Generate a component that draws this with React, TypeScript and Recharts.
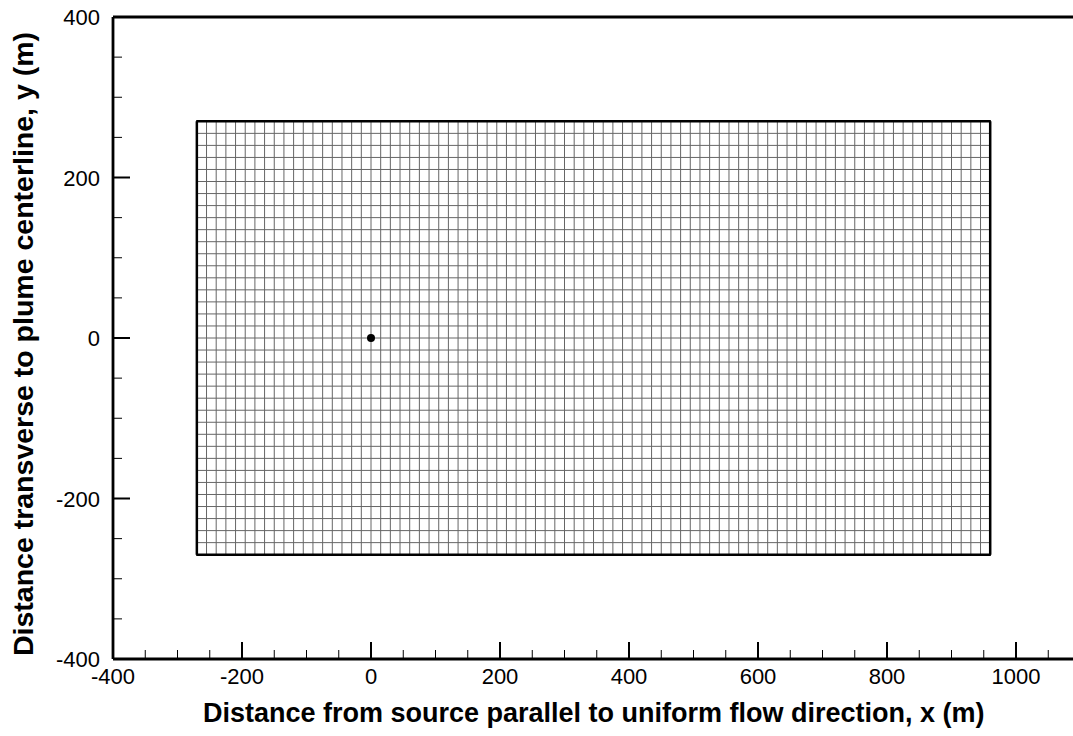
import React from 'react';
import { ComposedChart, XAxis, YAxis, Scatter, ReferenceLine, Label } from 'recharts';

// axis ticks (major ones get labels)
const xMajorTicks = [-400, -200, 0, 200, 400, 600, 800, 1000];
const xAllTicks = [
  -400, -350, -300, -250, -200, -150, -100, -50, 0, 50, 100, 150, 200, 250, 300, 350, 400,
  450, 500, 550, 600, 650, 700, 750, 800, 850, 900, 950, 1000, 1050, 1100,
];
const yMajorTicks = [-400, -200, 0, 200, 400];
const yAllTicks = [-400, -350, -300, -250, -200, -150, -100, -50, 0, 50, 100, 150, 200, 250, 300, 350, 400];

// model grid (m) and the source location
const meshXRange = [-270, 960];
const meshYRange = [-270, 270];
const meshCell = 15;
const sourcePoint = [{ x: 0, y: 0 }];

const font = 'Liberation Sans, Arial, Helvetica, sans-serif';

const meshXs: number[] = [];
for (let v = meshXRange[0]; v <= meshXRange[1]; v += meshCell) meshXs.push(v);
const meshYs: number[] = [];
for (let v = meshYRange[0]; v <= meshYRange[1]; v += meshCell) meshYs.push(v);

const MAJOR = 17;
const MINOR = 9;

const makeTick = (side: 'bottom' | 'top' | 'left' | 'right', majors: number[]) => (props: any) => {
  const { x, y, payload } = props;
  const major = majors.includes(payload.value);
  const len = major ? MAJOR : MINOR;
  const sw = major ? 2 : 1;
  let line;
  if (side === 'bottom') line = <line x1={x} x2={x} y1={y} y2={y - len} stroke="#000" strokeWidth={sw} />;
  else if (side === 'top') line = <line x1={x} x2={x} y1={y} y2={y + len} stroke="#000" strokeWidth={sw} />;
  else if (side === 'left') line = <line x1={x} x2={x + len} y1={y} y2={y} stroke="#000" strokeWidth={sw} />;
  else line = <line x1={x} x2={x - len} y1={y} y2={y} stroke="#000" strokeWidth={sw} />;
  let label = null;
  if (major && side === 'bottom')
    label = (
      <text x={x} y={y + 25} textAnchor="middle" fontSize={22} fontFamily={font} fill="#000">
        {payload.value}
      </text>
    );
  if (major && side === 'left')
    label = (
      <text x={x - 13} y={y + 8} textAnchor="end" fontSize={22} fontFamily={font} fill="#000">
        {payload.value}
      </text>
    );
  return (
    <g>
      {line}
      {label}
    </g>
  );
};

const XTitle = (props: any) => {
  const vb = props.viewBox;
  return (
    <text x={vb.x + vb.width / 2 - 3} y={vb.y + 63} textAnchor="middle" fontSize={27} fontWeight="bold" fontFamily={font} fill="#000">
      Distance from source parallel to uniform flow direction, x (m)
    </text>
  );
};

const YTitle = (props: any) => {
  const vb = props.viewBox;
  const cx = vb.x - 79;
  const cy = vb.y + vb.height / 2 + 6;
  return (
    <text x={cx} y={cy} transform={`rotate(-90, ${cx}, ${cy})`} textAnchor="middle" fontSize={28.5} fontWeight="bold" fontFamily={font} fill="#000">
      Distance transverse to plume centerline, y (m)
    </text>
  );
};

const axisCommon = {
  type: 'number' as const,
  interval: 0 as const,
  tickSize: 0,
  tickMargin: 0,
  tickLine: false,
  axisLine: { stroke: '#000', strokeWidth: 2.8 },
};

export default function App() {
  return (
    <div style={{ position: 'absolute', left: 0, top: 0, width: 1073, height: 736, overflow: 'hidden', background: '#fff' }}>
      <ComposedChart width={1100} height={736} margin={{ top: 16, left: 112, right: 18.5, bottom: 76 }}>
        <XAxis xAxisId="b" dataKey="x" domain={[-400, 1100]} ticks={xAllTicks} height={1} {...axisCommon} tick={makeTick('bottom', xMajorTicks)}>
          <Label content={<XTitle />} />
        </XAxis>
        <XAxis xAxisId="t" orientation="top" dataKey="x" domain={[-400, 1100]} ticks={xAllTicks} height={1} {...axisCommon} tick={makeTick('top', xMajorTicks)} />
        <YAxis yAxisId="l" dataKey="y" domain={[-400, 400]} ticks={yAllTicks} width={1} {...axisCommon} tick={makeTick('left', yMajorTicks)}>
          <Label content={<YTitle />} />
        </YAxis>
        <YAxis yAxisId="r" orientation="right" dataKey="y" domain={[-400, 400]} ticks={yAllTicks} width={1} {...axisCommon} tick={makeTick('right', yMajorTicks)} />
        {meshXs.map((v) => (
          <ReferenceLine
            key={'vx' + v}
            xAxisId="b"
            yAxisId="l"
            segment={[{ x: v, y: meshYRange[0] }, { x: v, y: meshYRange[1] }]}
            stroke="#666"
            strokeWidth={1}
          />
        ))}
        {meshYs.map((v) => (
          <ReferenceLine
            key={'hy' + v}
            xAxisId="b"
            yAxisId="l"
            segment={[{ x: meshXRange[0], y: v }, { x: meshXRange[1], y: v }]}
            stroke="#666"
            strokeWidth={1}
          />
        ))}
        {/* outer boundary of the model grid */}
        {meshXRange.map((v) => (
          <ReferenceLine
            key={'bx' + v}
            xAxisId="b"
            yAxisId="l"
            segment={[{ x: v, y: meshYRange[0] }, { x: v, y: meshYRange[1] }]}
            stroke="#000"
            strokeWidth={2.5}
          />
        ))}
        {meshYRange.map((v) => (
          <ReferenceLine
            key={'by' + v}
            xAxisId="b"
            yAxisId="l"
            segment={[{ x: meshXRange[0] - 1, y: v }, { x: meshXRange[1] + 1, y: v }]}
            stroke="#000"
            strokeWidth={2.5}
          />
        ))}
        <Scatter
          xAxisId="b"
          yAxisId="l"
          data={sourcePoint}
          dataKey="y"
          isAnimationActive={false}
          shape={(p: any) => <circle cx={p.cx} cy={p.cy} r={4} fill="#000" />}
        />
      </ComposedChart>
    </div>
  );
}
